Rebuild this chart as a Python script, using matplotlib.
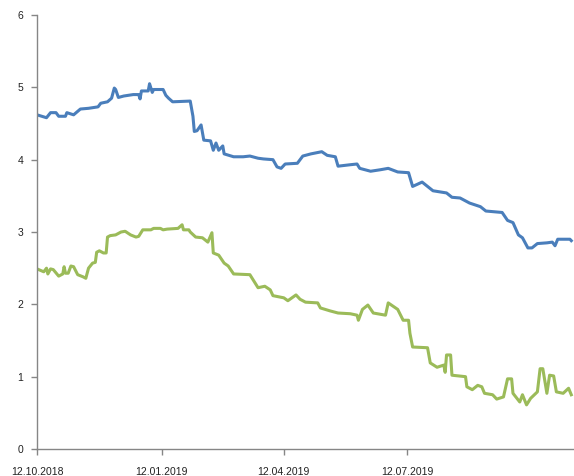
import numpy as np
import pandas as pd
import matplotlib
matplotlib.use("Agg")
import matplotlib.pyplot as plt
import matplotlib.dates as mdates

# blue series
blue_dates = [
    "2018-10-12", "2018-10-19", "2018-10-22", "2018-10-26", "2018-10-28", "2018-11-02",
    "2018-11-03", "2018-11-08", "2018-11-13", "2018-11-19", "2018-11-26", "2018-11-28",
    "2018-12-03", "2018-12-06", "2018-12-08", "2018-12-09", "2018-12-11", "2018-12-15",
    "2018-12-22", "2018-12-26", "2018-12-27", "2018-12-28", "2019-01-02", "2019-01-03",
    "2019-01-05", "2019-01-06", "2019-01-13", "2019-01-15", "2019-01-17", "2019-01-20",
    "2019-02-02", "2019-02-04", "2019-02-05", "2019-02-07", "2019-02-10", "2019-02-12",
    "2019-02-17", "2019-02-19", "2019-02-21", "2019-02-23", "2019-02-26", "2019-02-27",
    "2019-03-06", "2019-03-13", "2019-03-18", "2019-03-24", "2019-03-28", "2019-04-04",
    "2019-04-07", "2019-04-10", "2019-04-13", "2019-04-22", "2019-04-26", "2019-05-02",
    "2019-05-10", "2019-05-14", "2019-05-20", "2019-05-22", "2019-05-31", "2019-06-05",
    "2019-06-07", "2019-06-15", "2019-06-22", "2019-06-28", "2019-07-05", "2019-07-13",
    "2019-07-16", "2019-07-23", "2019-07-31", "2019-08-10", "2019-08-14", "2019-08-20",
    "2019-08-27", "2019-09-04", "2019-09-08", "2019-09-20", "2019-09-24", "2019-09-28",
    "2019-10-02", "2019-10-05", "2019-10-09", "2019-10-12", "2019-10-16", "2019-10-23",
    "2019-10-27", "2019-10-29", "2019-10-31", "2019-11-09", "2019-11-10",
]
blue_values = [
    4.62, 4.58, 4.65, 4.65, 4.60, 4.60,
    4.65, 4.62, 4.70, 4.71, 4.73, 4.78,
    4.80, 4.85, 4.99, 4.97, 4.86, 4.88,
    4.90, 4.90, 4.84, 4.95, 4.95, 5.05,
    4.93, 4.97, 4.97, 4.89, 4.85, 4.80,
    4.81, 4.60, 4.39, 4.40, 4.48, 4.27,
    4.26, 4.13, 4.23, 4.13, 4.19, 4.08,
    4.04, 4.04, 4.05, 4.02, 4.01, 4.00,
    3.90, 3.88, 3.94, 3.95, 4.05, 4.08,
    4.11, 4.06, 4.04, 3.91, 3.93, 3.94,
    3.88, 3.84, 3.86, 3.88, 3.83, 3.82,
    3.63, 3.69, 3.57, 3.54, 3.48, 3.47,
    3.40, 3.35, 3.29, 3.27, 3.16, 3.13,
    2.96, 2.92, 2.78, 2.78, 2.84, 2.85,
    2.86, 2.81, 2.90, 2.90, 2.88,
]

# green series
green_dates = [
    "2018-10-12", "2018-10-17", "2018-10-19", "2018-10-20", "2018-10-22", "2018-10-24",
    "2018-10-28", "2018-10-31", "2018-11-01", "2018-11-02", "2018-11-04", "2018-11-06",
    "2018-11-08", "2018-11-11", "2018-11-15", "2018-11-17", "2018-11-19", "2018-11-22",
    "2018-11-24", "2018-11-25", "2018-11-27", "2018-11-30", "2018-12-02", "2018-12-03",
    "2018-12-05", "2018-12-09", "2018-12-13", "2018-12-16", "2018-12-20", "2018-12-24",
    "2018-12-26", "2018-12-29", "2019-01-04", "2019-01-06", "2019-01-11", "2019-01-13",
    "2019-01-16", "2019-01-24", "2019-01-27", "2019-01-28", "2019-02-01", "2019-02-02",
    "2019-02-06", "2019-02-11", "2019-02-15", "2019-02-18", "2019-02-19", "2019-02-23",
    "2019-02-27", "2019-03-02", "2019-03-06", "2019-03-18", "2019-03-24", "2019-03-29",
    "2019-04-02", "2019-04-04", "2019-04-12", "2019-04-15", "2019-04-21", "2019-04-24",
    "2019-04-28", "2019-05-07", "2019-05-09", "2019-05-16", "2019-05-22", "2019-05-31",
    "2019-06-05", "2019-06-06", "2019-06-09", "2019-06-13", "2019-06-17", "2019-06-26",
    "2019-06-28", "2019-07-05", "2019-07-09", "2019-07-13", "2019-07-14", "2019-07-16",
    "2019-07-27", "2019-07-29", "2019-08-03", "2019-08-08", "2019-08-09", "2019-08-10",
    "2019-08-13", "2019-08-14", "2019-08-24", "2019-08-25", "2019-08-29", "2019-09-02",
    "2019-09-05", "2019-09-07", "2019-09-13", "2019-09-16", "2019-09-21", "2019-09-24",
    "2019-09-27", "2019-09-28", "2019-10-03", "2019-10-05", "2019-10-08", "2019-10-11",
    "2019-10-16", "2019-10-18", "2019-10-20", "2019-10-23", "2019-10-25", "2019-10-28",
    "2019-10-30", "2019-11-04", "2019-11-08", "2019-11-10",
]
green_values = [
    2.49, 2.45, 2.50, 2.42, 2.49, 2.48, 2.39, 2.42, 2.52, 2.43,
    2.43, 2.53, 2.52, 2.41, 2.38, 2.36, 2.50, 2.57, 2.58, 2.72,
    2.74, 2.71, 2.71, 2.93, 2.95, 2.96, 3.00, 3.01, 2.96, 2.93,
    2.94, 3.03, 3.03, 3.05, 3.05, 3.03, 3.04, 3.05, 3.10, 3.03,
    3.03, 3.00, 2.93, 2.92, 2.86, 2.99, 2.71, 2.68, 2.57, 2.53,
    2.42, 2.41, 2.23, 2.25, 2.20, 2.12, 2.09, 2.05, 2.13, 2.07,
    2.03, 2.02, 1.95, 1.91, 1.88, 1.87, 1.85, 1.78, 1.93, 1.99,
    1.88, 1.85, 2.02, 1.93, 1.78, 1.78, 1.60, 1.41, 1.40, 1.19,
    1.13, 1.16, 1.06, 1.30, 1.30, 1.02, 1.00, 0.86, 0.82, 0.88,
    0.86, 0.77, 0.75, 0.69, 0.72, 0.97, 0.97, 0.77, 0.65, 0.75,
    0.61, 0.70, 0.79, 1.11, 1.11, 0.77, 1.02, 1.01, 0.79, 0.77,
    0.84, 0.75,
]

tick_dates = ["2018-10-12", "2019-01-12", "2019-04-12", "2019-07-12"]
y_ticks = [0, 1, 2, 3, 4, 5, 6]

plt.rcParams['font.family'] = ['Liberation Sans', 'DejaVu Sans']

fig = plt.figure(figsize=(5.74, 4.76), dpi=100)
ax = fig.add_axes([37 / 574, 27 / 476, 537 / 574, 434 / 476])

ax.plot(pd.to_datetime(blue_dates), blue_values, color='#4a7ebb', linewidth=2.2,
        solid_joinstyle='round')
ax.plot(pd.to_datetime(green_dates), green_values, color='#9bbb59', linewidth=2.2,
        solid_joinstyle='round')

ax.set_ylim(0, 6)
ax.set_xlim(pd.Timestamp("2018-10-12"), pd.Timestamp("2019-11-12"))
ax.set_yticks(y_ticks)
ax.set_xticks(pd.to_datetime(tick_dates))
ax.xaxis.set_major_formatter(mdates.DateFormatter('%d.%m.%Y'))

for side in ['top', 'right']:
    ax.spines[side].set_visible(False)
for side in ['left', 'bottom']:
    ax.spines[side].set_color('#868686')
    ax.spines[side].set_linewidth(1.0)

ax.tick_params(axis='both', colors='#868686', length=4, width=1, labelcolor='#222222',
               labelsize=7.5)
ax.tick_params(axis='x', pad=9)
ax.tick_params(axis='y', pad=6)

fig.savefig('out.png', dpi=100)
